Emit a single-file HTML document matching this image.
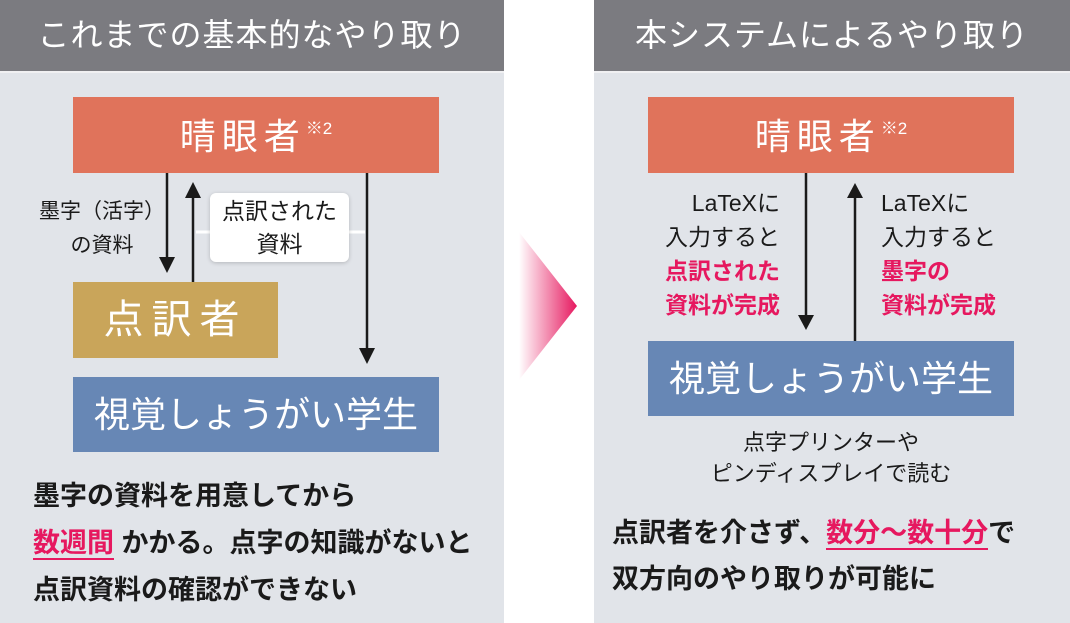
<!DOCTYPE html>
<html><head><meta charset="utf-8"><style>
body{margin:0;width:1070px;height:623px;background:#fff;position:relative;overflow:hidden;font-family:"Liberation Sans","Noto Sans CJK JP",sans-serif;}
.a{position:absolute;}
.panel{background:#e1e4e9;top:0;height:623px;}
.hd{background:#7b7b80;top:0;height:71px;color:#fff;font-size:32px;line-height:71px;text-align:center;letter-spacing:1px;}
.box{color:#fff;text-align:center;}
.t{color:#1a1a1a;}
.pk{color:#e6185f;}
sup{font-size:17px;vertical-align:top;position:relative;top:-8px;letter-spacing:0}
</style></head><body>
<div class="a panel" style="left:0;width:504px"></div>
<div class="a panel" style="left:594px;width:476px"></div>
<div class="a hd" style="left:0;width:504px">これまでの基本的なやり取り</div>
<div class="a hd" style="left:594px;width:476px">本システムによるやり取り</div>
<div class="a" style="left:0;top:71px;width:1070px;height:2px;background:#f0f0f2"></div>
<div class="a" style="left:504px;top:71px;width:90px;height:2px;background:#fff"></div>

<svg class="a" style="left:0;top:0" width="1070" height="623">
<defs><linearGradient id="g" x1="0" x2="1"><stop offset="0" stop-color="#e6185f" stop-opacity="0"/><stop offset="1" stop-color="#e6185f"/></linearGradient></defs>
<polygon points="519,232 577,306 519,380" fill="url(#g)"/>
<g stroke="#1a1a1a" stroke-width="2.5" fill="#1a1a1a">
<line x1="167" y1="173" x2="167" y2="258"/><polygon points="159,257 175,257 167,273" stroke="none"/>
<line x1="193" y1="197" x2="193" y2="282"/><polygon points="185,198 201,198 193,182" stroke="none"/>
<line x1="367" y1="173" x2="367" y2="349"/><polygon points="359,348 375,348 367,364" stroke="none"/>
<line x1="806" y1="173" x2="806" y2="316"/><polygon points="798,315 814,315 806,330" stroke="none"/>
<line x1="855" y1="197" x2="855" y2="341"/><polygon points="847,198 863,198 855,183" stroke="none"/>
</g>
<line x1="196" y1="232" x2="365" y2="232" stroke="#fff" stroke-width="3"/>
</svg>

<div class="a box" style="left:73px;top:97px;width:366px;height:76px;background:#e0735b;font-size:36px;line-height:80px;letter-spacing:6px">晴眼者<sup>※2</sup></div>
<div class="a box" style="left:648px;top:97px;width:366px;height:76px;background:#e0735b;font-size:36px;line-height:80px;letter-spacing:6px">晴眼者<sup>※2</sup></div>
<div class="a box" style="left:73px;top:282px;width:205px;height:76px;background:#c9a55a;font-size:40px;line-height:76px;letter-spacing:8px">点訳者</div>
<div class="a box" style="left:73px;top:377px;width:366px;height:75px;background:#6787b5;font-size:36px;line-height:75px">視覚しょうがい学生</div>
<div class="a box" style="left:648px;top:341px;width:366px;height:75px;background:#6787b5;font-size:36px;line-height:75px">視覚しょうがい学生</div>

<div class="a t" style="left:22px;top:195px;width:160px;font-size:21px;line-height:34px;text-align:center">墨字（活字）<br>の資料</div>
<div class="a t" style="left:210px;top:193px;width:139px;height:69px;background:#fff;border-radius:6px;box-shadow:0 1px 4px rgba(0,0,0,.2);font-size:23px;line-height:33px;text-align:center;padding-top:2px;box-sizing:border-box;white-space:nowrap">点訳された<br>資料</div>

<div class="a t" style="left:620px;top:186px;width:160px;font-size:23px;line-height:34px;text-align:right">LaTeXに<br>入力すると<br><b class="pk">点訳された<br>資料が完成</b></div>
<div class="a t" style="left:881px;top:186px;width:160px;font-size:23px;line-height:34px;text-align:left">LaTeXに<br>入力すると<br><b class="pk">墨字の<br>資料が完成</b></div>
<div class="a t" style="left:660px;top:427px;width:342px;font-size:22px;line-height:31px;text-align:center">点字プリンターや<br>ピンディスプレイで読む</div>

<div class="a t" style="left:33px;top:473px;width:480px;font-size:27px;line-height:47px;font-weight:bold;white-space:nowrap">墨字の資料を用意してから<br><span class="pk" style="border-bottom:2px solid #e6185f">数週間</span> かかる。点字の知識がないと<br>点訳資料の確認ができない</div>
<div class="a t" style="left:612px;top:510px;width:460px;font-size:27px;line-height:46px;font-weight:bold;white-space:nowrap">点訳者を介さず、<span class="pk" style="border-bottom:2px solid #e6185f">数分〜数十分</span>で<br>双方向のやり取りが可能に</div>
</body></html>
